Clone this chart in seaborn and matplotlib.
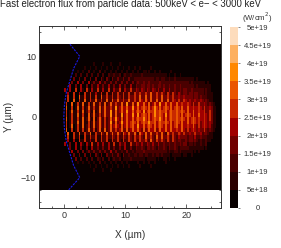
import numpy as np
import matplotlib
matplotlib.use("Agg")
import matplotlib.pyplot as plt
from matplotlib.colors import ListedColormap
from matplotlib.ticker import FixedLocator
import seaborn as sns

sns.set_style("white")
plt.rcParams["font.family"] = ["Liberation Sans", "DejaVu Sans"]

# flux, one digit = one colour band (5e18 wide)
# rows go from y=+8.7 down to y=-8.7 (0.6 um apart), columns from x=0 to x=25 (0.3 um apart)
flux_rows = [
    "000 000 000 000 000 010 000 100 010 000 100 000 000",
    "000 000 000 001 001 001 001 001 001 001 001 001 001 001 000 001",
    "000 000 010 010 020 010 020 010 010 010 010 010 010 010 011 010 010 010 000 010",
    "000 000 200 200 200 200 200 200 211 211 201 211 211 111 211 111 111 111 110 100 100 100",
    "000 003 003 003 003 003 003 103 103 113 113 113 112 222 222 222 212 212 211 211 211 111 111 110 100",
    "000 030 040 030 040 131 141 131 131 131 131 131 131 232 232 232 222 232 222 222 222 222 221 211 111 110 100",
    "000 400 300 400 300 311 411 311 411 311 411 311 411 322 332 332 322 332 322 322 322 322 222 221 211 111 110",
    "400 400 500 410 510 411 511 411 511 422 511 422 522 432 432 432 432 422 422 422 322 323 322 322 222 212 110",
    "004 005 004 005 115 114 115 115 115 225 225 225 225 335 335 336 335 335 325 325 324 323 323 323 322 212 111",
    "005 005 006 115 115 115 116 225 225 225 325 225 335 336 336 336 335 336 335 335 334 334 333 323 323 222 111",
    "005 006 005 116 115 226 225 226 226 336 335 336 335 336 436 436 336 336 336 335 435 335 434 334 334 323 211",
    "050 060 151 161 151 262 252 262 363 353 363 373 363 474 464 363 464 474 464 464 464 454 454 353 353 343 232 100",
    "060 050 161 151 262 252 262 363 353 373 464 464 474 464 565 464 575 464 565 464 565 464 464 454 454 353 343 110",
    "050 161 151 161 252 161 262 363 373 363 464 474 464 565 474 565 575 565 564 565 565 565 464 464 454 453 353 110",
    "050 151 161 151 161 262 252 363 373 363 373 464 474 474 565 464 575 565 474 565 565 464 565 464 464 454 353 110",
    "060 151 151 161 262 161 363 252 363 474 363 464 464 565 575 464 565 575 464 565 565 565 464 565 454 454 353 110",
    "050 151 161 161 151 262 363 252 373 363 474 464 565 464 565 575 564 565 565 464 565 464 464 565 453 454 343 110",
    "050 160 151 161 251 262 363 252 363 464 363 464 564 474 464 565 464 565 464 464 564 464 454 464 353 454 342 110",
    "060 050 151 151 262 251 362 262 363 353 463 363 464 464 363 464 463 464 464 464 454 464 353 454 343 353 232 100",
    "006 005 116 115 226 115 226 326 236 336 326 436 336 326 436 336 335 336 326 435 335 435 334 335 334 233 211",
    "005 005 115 005 115 225 115 225 225 325 225 325 325 335 326 335 326 336 335 325 324 333 323 324 223 222 111",
    "004 004 005 115 114 115 115 225 115 225 215 225 325 325 335 326 325 335 325 325 323 322 323 323 212 112 110",
    "400 300 400 410 410 511 411 411 411 511 422 411 522 432 422 432 422 422 322 322 322 323 312 212 112 112",
    "000 300 400 300 300 411 311 311 411 311 311 411 311 322 321 332 321 322 321 322 321 222 221 111 111 101",
    "000 040 030 030 131 131 131 131 141 131 121 131 121 222 232 222 222 222 221 211 221 211 111 101 010",
    "000 003 003 003 003 003 103 003 113 113 103 112 112 212 212 211 212 212 111 101 111 101 100 100",
    "000 000 300 200 200 200 210 200 201 211 201 111 211 111 110 111 110 100 110 100 100",
    "000 000 010 010 010 010 020 010 010 010 010 010 000 010 010 010 010 000 010",
    "000 000 000 000 001 001 001 001 001 001 001 001 000 001 000 001",
    "000 000 000 000 000 010 000 100 010",
]

band_colors = ["#080000", "#2a0000", "#4a0000", "#700000", "#a00000",
               "#c82800", "#ea5500", "#ff8800", "#fdb060", "#fddcbc"]

cbar_ticks = [0, 5e18, 1e19, 1.5e19, 2e19, 2.5e19, 3e19, 3.5e19, 4e19, 4.5e19, 5e19]
cbar_labels = ["0", "5e+18", "1e+19", "1.5e+19", "2e+19", "2.5e+19",
               "3e+19", "3.5e+19", "4e+19", "4.5e+19", "5e+19"]

x_ticks = [0, 10, 20]
x_labels = ["0", "10", "20"]
y_ticks = [10, 0, -10]
y_labels = ["10", "0", "\u221210"]

# blue contour
contour_x = [1.0, 2.6, 1.6, 1.0, 0.4, 0.1, 0.0, 0.1, 0.4, 1.0, 1.6, 2.6, 0.8]
contour_y = [12, 10, 8, 6, 4, 2, 0, -2, -4, -6, -8, -10, -12]

# image grid (um)
x0 = -4.2
dx = 0.3
y_top = 12.0
dy = 0.6


def to_col(x):
    return (np.asarray(x, dtype=float) - x0) / dx


def to_row(y):
    return (y_top - np.asarray(y, dtype=float)) / dy


levels = []
for r in flux_rows:
    digits = r.replace(" ", "").ljust(84, "0")[:84]
    levels.append([int(c) for c in digits])
flux = (np.array(levels) + 0.5) * 5e18
flux = np.pad(flux, ((5, 5), (14, 2)), constant_values=2.5e18)

fig = plt.figure(figsize=(2.81, 2.48), dpi=100)
ax = fig.add_axes([39 / 281, 40 / 248, 182 / 281, 182 / 248])
cax = fig.add_axes([230 / 281, 40 / 248, 8 / 281, 181 / 248])

sns.heatmap(flux, ax=ax, cbar_ax=cax, cmap=ListedColormap(band_colors),
            vmin=0, vmax=5e19, xticklabels=False, yticklabels=False,
            cbar_kws={"ticks": cbar_ticks})

sns.lineplot(x=to_col(contour_x), y=to_row(contour_y), ax=ax, sort=False,
             estimator=None, color="#1a1ae0", lw=0.8, ls=(0, (2, 1)))

ax.set_xlim(to_col(-4.05), to_col(25.65))
ax.set_ylim(to_row(-15), to_row(15))

for s in ax.spines.values():
    s.set_visible(True)
    s.set_color("#333333")
    s.set_linewidth(0.7)

ax.set_xticks(to_col(x_ticks))
ax.set_xticklabels(x_labels)
ax.set_yticks(to_row(y_ticks))
ax.set_yticklabels(y_labels, rotation=0)
ax.xaxis.set_minor_locator(FixedLocator(to_col(np.arange(-4, 26, 2))))
ax.yaxis.set_minor_locator(FixedLocator(to_row(np.arange(-14, 16, 2))))
ax.tick_params(which="major", direction="in", length=3, width=0.5, top=True, right=True,
               bottom=True, left=True, labelsize=6.5, labelcolor="#333333", pad=2)
ax.tick_params(which="minor", direction="in", length=1.5, width=0.5, top=True, right=True,
               bottom=True, left=True)
ax.set_xlabel("X (\u00b5m)", fontsize=7.2, color="#333333", labelpad=7, visible=True)
ax.set_ylabel("Y (\u00b5m)", fontsize=7.2, color="#333333", labelpad=5, visible=True)

fig.text(0.0, 1 - 4 / 248, "Fast electron flux from particle data: 500keV < e\u2212 < 3000 keV",
         fontsize=6.95, color="#222222", ha="left", va="center")

cax.set_yticks(cbar_ticks)
cax.set_yticklabels(cbar_labels, ha="center")
cax.tick_params(length=1.5, width=0.4, labelsize=5.5, labelcolor="#333333", pad=12.5, right=True)
fig.text(257 / 281, 1 - 17.5 / 248, "(W/cm$^2$)", fontsize=5.6, color="#333333", ha="center", va="center")

fig.savefig("out.png", dpi=100)
